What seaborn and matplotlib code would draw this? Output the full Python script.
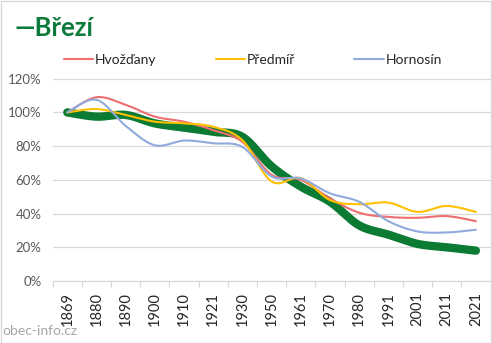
import numpy as np
import pandas as pd
import matplotlib
matplotlib.use("Agg")
import matplotlib.pyplot as plt
from matplotlib.lines import Line2D
from matplotlib.patches import Rectangle
from matplotlib.ticker import FixedLocator, PercentFormatter
import seaborn as sns

# Census years and population relative to 1869 (%)
years = ["1869", "1880", "1890", "1900", "1910", "1921", "1930", "1950",
         "1961", "1970", "1980", "1991", "2001", "2011", "2021"]
brezi = [100, 97.5, 98.5, 93.5, 91, 88.5, 85.5, 68, 56, 47, 33, 27.5, 22, 20, 18]
hvozdany = [100, 109, 104.5, 97.5, 94.5, 89.5, 82.5, 63, 60, 49, 40.5, 38, 37.5, 38.5, 35.5]
predmir = [100, 102, 98.5, 94.5, 93.5, 91.5, 83.5, 59, 61, 48, 45.5, 46.5, 41, 44.5, 41]
hornosin = [100, 107.5, 92, 80.5, 83.3, 81.7, 79.5, 62, 60.8, 52, 47, 35.5, 29.4, 28.8, 30.4]

series = [
    ("Březí", brezi, "#0b7a33", 6.0),
    ("Hvožďany", hvozdany, "#ee6e70", 1.5),
    ("Předmíř", predmir, "#ffc000", 1.5),
    ("Hornosín", hornosin, "#8faadc", 1.5),
]


def smooth(xs, ys, n=30):
    """Catmull-Rom style Bezier smoothing through every point."""
    pts = np.column_stack([xs, ys]).astype(float)
    ext = np.vstack([pts[0], pts, pts[-1]])
    out = []
    t = np.linspace(0, 1, n)[:, None]
    for i in range(1, len(ext) - 2):
        p0, p1, p2, p3 = ext[i - 1], ext[i], ext[i + 1], ext[i + 2]
        c1 = p1 + (p2 - p0) / 6.0
        c2 = p2 - (p3 - p1) / 6.0
        seg = ((1 - t) ** 3) * p1 + 3 * ((1 - t) ** 2) * t * c1 + 3 * (1 - t) * t ** 2 * c2 + t ** 3 * p2
        out.append(seg if i == 1 else seg[1:])
    seg = np.vstack(out)
    return seg[:, 0], seg[:, 1]


sns.set_theme(style="white")
plt.rcParams["font.family"] = ["Lato", "DejaVu Sans"]

W, H = 492, 343
fig = plt.figure(figsize=(W / 100, H / 100), dpi=100)
fig.patch.set_facecolor("white")
ax = fig.add_axes([52.7 / W, 1 - 281 / H, (490.5 - 52.7) / W, (281 - 78.7) / H])

xpos = np.arange(len(years))
for name, vals, color, lw in series:
    sx, sy = smooth(xpos, np.asarray(vals) / 100.0)
    df = pd.DataFrame({"x": sx, "y": sy})
    sns.lineplot(data=df, x="x", y="y", ax=ax, color=color, linewidth=lw,
                 sort=False, estimator=None, solid_capstyle="round", legend=False)

ax.set_xlim(-0.5, len(years) - 0.5)
ax.set_ylim(0, 1.2)
ax.set_xlabel("")
ax.set_ylabel("")

ax.yaxis.set_major_locator(FixedLocator(np.arange(0, 1.21, 0.2)))
ax.yaxis.set_major_formatter(PercentFormatter(1.0, decimals=0))
ax.grid(axis="y", color="#d9d9d9", linewidth=0.9)
ax.set_axisbelow(True)

ax.set_xticks(xpos)
ax.set_xticklabels(years, rotation=90, fontsize=10.5, color="#262626")
ax.xaxis.set_minor_locator(FixedLocator(np.arange(-0.5, len(years), 1.0)))
ax.tick_params(axis="x", which="major", length=0, pad=8)
ax.tick_params(axis="x", which="minor", length=4, width=0.9, color="#d9d9d9", bottom=True)
ax.tick_params(axis="y", length=0, pad=8, labelsize=9.5, labelcolor="#595959")

for s in ("top", "right", "left"):
    ax.spines[s].set_visible(False)
ax.spines["bottom"].set_color("#d9d9d9")
ax.spines["bottom"].set_linewidth(0.9)

# Title
fig.text(15 / W, 1 - 36 / H, "—Březí", fontsize=18.5, fontweight="bold",
         color="#0b7a3a", va="baseline", ha="left")

# Legend
handles = [Line2D([], [], color=c, linewidth=lw) for _, _, c, lw in series[1:]]
labels = [n for n, _, _, _ in series[1:]]
fig.legend(handles, labels, loc="center left", bbox_to_anchor=(64 / W, 1 - 60 / H),
           ncol=3, frameon=False, fontsize=10, handlelength=2.1, handletextpad=0.15,
           columnspacing=4.25, borderpad=0, borderaxespad=0)

# Source note
fig.text(2 / W, 1 - 331 / H, "obec-info.cz", fontsize=10, color="#a6a6a6",
         va="center", ha="left")

fig.patches.append(Rectangle((0.5 / W, 0.5 / H), 1 - 1.5 / W, 1 - 1.5 / H,
                             transform=fig.transFigure, fill=False,
                             edgecolor="#d9d9d9", linewidth=1))

fig.savefig("out.png", dpi=100)
